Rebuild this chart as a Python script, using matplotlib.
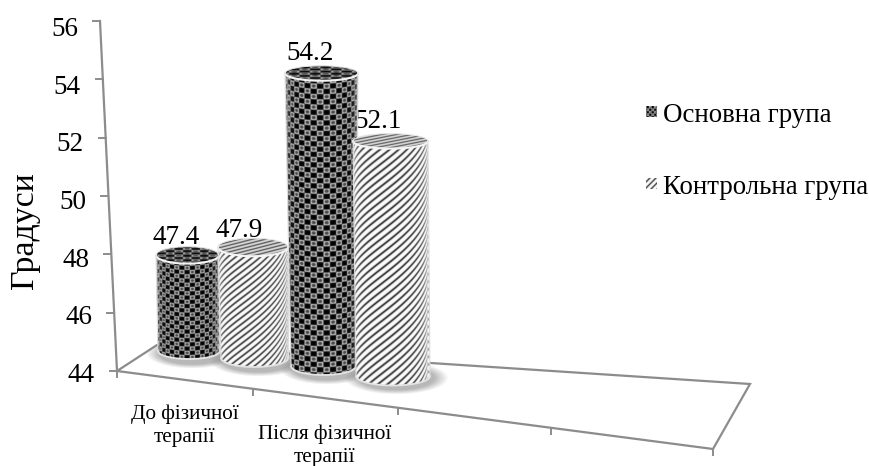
import numpy as np
import matplotlib
matplotlib.use("Agg")
import matplotlib.pyplot as plt
from matplotlib.patches import PathPatch
from matplotlib.path import Path

plt.rcParams["font.family"] = ["Liberation Serif", "DejaVu Serif"]

# chart values
main_group = [47.4, 54.2]
control_group = [47.9, 52.1]
categories = ["До фізичної\nтерапії", "Після фізичної\nтерапії"]
series_names = ["Основна група", "Контрольна група"]
y_ticks = [44, 46, 48, 50, 52, 54, 56]
y_label = "Градуси"

GRID = "#8c8c8c"


def axis_y(v):
    return 371 - (v - 44) * 29.17


def axis_x(v):
    return 117 - (v - 44) * 1.417


def dark_tex(u, v, p):
    # black crosses on a staggered grid, light lattice between them
    g = np.cos(2 * np.pi * (u + v) / p) + np.cos(2 * np.pi * (u - v) / p)
    return np.interp(g, [-2, -1.2, -0.5, 0.3, 2], [0.25, 0.4, 0.95, 0.05, 0])


def light_tex(u, v, p):
    s = np.cos(2 * np.pi * (u + v) / p)
    return np.interp(s, [-1, 0.3, 1], [1.0, 0.9, 0.12])


def elliptic_arc(cx, cy, rx, ry, t0, t1, n=60):
    t = np.linspace(t0, t1, n)
    return np.column_stack([cx + rx * np.cos(t), cy + ry * np.sin(t)])


def clipped_image(ax, arr, extent, verts, z):
    im = ax.imshow(arr, cmap="gray", vmin=0, vmax=1, extent=extent, aspect="auto",
                   interpolation="bilinear", zorder=z)
    verts = np.vstack([verts, verts[:1]])
    patch = PathPatch(Path(verts), transform=ax.transData, fc="none", ec="none")
    ax.add_patch(patch)
    im.set_clip_path(patch)


def soft_shadow(ax, cx, cy, rx, ry):
    left, right = cx - rx - 30, cx + rx + 30
    top, bottom = cy - ry - 20, cy + ry + 20
    xs, ys = np.meshgrid(np.arange(left, right, 1.0), np.arange(top, bottom, 1.0))
    d = np.hypot((xs - cx - 3) / (rx + 15), (ys - cy - 1) / (ry + 7))
    alpha = np.clip(1 - d, 0, 1) * 2.0
    rgba = np.zeros(xs.shape + (4,))
    rgba[..., :3] = 0.5
    rgba[..., 3] = np.clip(alpha, 0, 0.55)
    ax.imshow(rgba, extent=(left, right, bottom, top), aspect="auto",
              interpolation="bilinear", zorder=2)


def cylinder(ax, value, geom, tex, period, z):
    left, right, left_b, right_b, base, scale, ry_top, ry_bot = geom
    y_top = base - (value - 44) * scale
    cx, rx = (left + right) / 2, (right - left) / 2
    cx_b, rx_b = (left_b + right_b) / 2, (right_b - left_b) / 2

    # side surface
    front_top = elliptic_arc(cx, y_top, rx, ry_top, np.pi, 0)
    front_bot = elliptic_arc(cx_b, base, rx_b, ry_bot, 0, np.pi)
    xs, ys = np.meshgrid(np.arange(left - 2, right + 2, 0.5), np.arange(y_top - 2, base + ry_bot + 2, 0.5))
    t = np.clip((xs - cx) / rx, -1, 1)
    u = cx + rx * np.arcsin(t) * 0.8
    h = ys - ry_top * np.sqrt(1 - t ** 2)
    body = tex(u, h, period)
    edge = np.abs(t) ** 10 * 0.55
    body = body * (1 - edge) + 0.95 * edge
    clipped_image(ax, body, (left - 2, right + 2, base + ry_bot + 2, y_top - 2),
                  np.vstack([front_top, front_bot]), z)

    # top face, same fill seen at a flat angle
    xs, ys = np.meshgrid(np.arange(left - 1, right + 1, 0.5), np.arange(y_top - ry_top - 1, y_top + ry_top + 1, 0.5))
    cap = tex(xs * 0.5, (ys - y_top) * rx / ry_top * 0.5, period) * 0.82 + 0.04
    clipped_image(ax, cap, (left - 1, right + 1, y_top + ry_top + 1, y_top - ry_top - 1),
                  elliptic_arc(cx, y_top, rx, ry_top, 0, 2 * np.pi), z + 0.1)

    # light bevel round the cylinder
    ax.plot(*elliptic_arc(cx, y_top, rx, ry_top, np.pi, 0).T, color="#f4f4f4", lw=1.5, zorder=z + 0.2)
    ax.plot(*elliptic_arc(cx, y_top, rx, ry_top, 0, -np.pi).T, color="#e6e6e6", lw=0.7, zorder=z + 0.2)
    ax.plot(*front_bot.T, color="#e4e4e4", lw=1.3, zorder=z + 0.2)
    ax.plot([left, left_b], [y_top, base], color="#dddddd", lw=0.8, zorder=z + 0.2)
    ax.plot([right, right_b], [y_top, base], color="#dddddd", lw=0.8, zorder=z + 0.2)
    return y_top


fig = plt.figure(figsize=(8.7, 4.66), dpi=100)
ax = fig.add_axes([0, 0, 1, 1])

# floor and value axis
floor = [(117, 371), (713, 449), (750, 384), (157, 345), (117, 371)]
ax.plot(*zip(*floor), color=GRID, lw=1.6, zorder=1, solid_joinstyle="miter")
ax.plot([axis_x(56), axis_x(44)], [axis_y(56), axis_y(44)], color=GRID, lw=1.6, zorder=1)
ax.plot([117, 117], [371, 377], color=GRID, lw=1.4, zorder=1)
for v in y_ticks:
    ax.plot([axis_x(v) - 7, axis_x(v)], [axis_y(v), axis_y(v)], color=GRID, lw=1.4, zorder=1)
    ax.text(axis_x(v) - 22, 373 - (v - 44) * 28.83 + 9, str(v), fontsize=19.5, ha="right", va="baseline")
for x, y in [(253, 389), (398, 408), (551, 428), (713, 449)]:
    ax.plot([x, x], [y, y + 6], color=GRID, lw=1.4, zorder=1)

ax.text(25, 231, y_label, rotation=90, fontsize=24.4, ha="center", va="center")

# left, right, bottom left, bottom right, base y, px per unit, top and bottom ellipse radius
bars = [
    (main_group[0], (156, 219, 158, 220, 351, 28.2, 8.5, 8), dark_tex, 8.5, 3, (176, 244)),
    (control_group[0], (218, 288, 221, 288, 358, 28.4, 9, 9), light_tex, 6.5, 4, (239, 237)),
    (main_group[1], (285, 358, 291, 356, 366, 28.7, 7.5, 9), dark_tex, 10.5, 5, (310, 60)),
    (control_group[1], (353, 428, 356, 430, 376, 29.0, 7.5, 9.5), light_tex, 7.5, 6, (378, 128)),
]
for value, geom, tex, period, z, _ in bars:
    soft_shadow(ax, (geom[2] + geom[3]) / 2, geom[4] + 1, (geom[3] - geom[2]) / 2, geom[7])
    cylinder(ax, value, geom, tex, period, z)
for value, geom, tex, period, z, (lx, ly) in bars:
    ax.text(lx, ly, f"{value:.1f}", fontsize=19.5, ha="center", va="baseline", zorder=z - 1.5 if value == 52.1 else 10)

# category labels sit under the floor
for label, x, y in zip(categories, [185, 324.5], [426, 446]):
    ax.text(x, y, label, fontsize=15.2, ha="center", va="center", linespacing=1.32, zorder=10)

# legend swatches use the bar fills at a smaller size
legend_y = [112, 184]
for name, y, tex, period in zip(series_names, legend_y, [dark_tex, light_tex], [5.0, 6.0]):
    xs, ys = np.meshgrid(np.arange(646, 657, 0.5), np.arange(y - 5.5, y + 5.5, 0.5))
    ax.imshow(tex(xs, ys, period), cmap="gray", vmin=0, vmax=1, aspect="auto",
              extent=(646, 657, y + 5.5, y - 5.5), interpolation="bilinear", zorder=3)
    ax.text(663, y + 9.5, name, fontsize=19.4, ha="left", va="baseline")

ax.set_xlim(0, 870)
ax.set_ylim(466, 0)
ax.axis("off")
fig.savefig("out.png", dpi=100)
